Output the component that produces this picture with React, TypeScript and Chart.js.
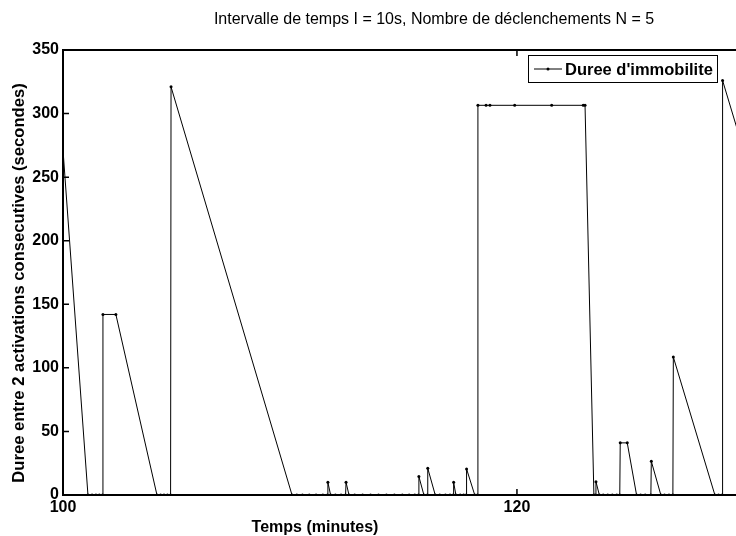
import React, { useEffect, useRef } from "react";
import { Chart, registerables } from "chart.js";

Chart.register(...registerables);

const SERIES_LABEL = "Duree d'immobilite";
const TITLE = "Intervalle de temps I = 10s, Nombre de déclenchements N = 5";
const X_TITLE = "Temps (minutes)";
const Y_TITLE = "Duree entre 2 activations consecutives (secondes)";
const X_TICKS = [100, 120];
const Y_TICKS = [0, 50, 100, 150, 200, 250, 300, 350];

const TIMES = [
  99.75, 101.1, 101.28, 101.45, 101.6, 101.74, 101.76, 102.33,
  104.14, 104.3, 104.45, 104.6, 104.74, 104.76,
  110.09, 110.3, 110.55, 110.85, 111.15, 111.45, 111.65, 111.67, 111.79,
  112.0, 112.25, 112.45, 112.47, 112.6, 112.85, 113.2, 113.55, 113.9, 114.25, 114.6, 114.95, 115.25, 115.5,
  115.66, 115.68, 115.9, 116.05, 116.07, 116.4, 116.6, 116.85, 117.05, 117.19, 117.21, 117.31,
  117.5, 117.65, 117.76, 117.78, 118.14, 118.26, 118.28,
  118.64, 118.81, 119.9, 121.53, 122.92, 123.0,
  123.39, 123.46, 123.48, 123.63, 123.8, 124.0, 124.2, 124.4, 124.53, 124.55, 124.86, 125.27,
  125.45, 125.65, 125.9, 125.92, 126.34, 126.5, 126.7, 126.87, 126.89, 128.72, 128.88, 129.04, 129.06, 134.55,
];

const DUREES = [
  333, 0, 0, 0, 0, 0, 142, 142,
  0, 0, 0, 0, 0, 321,
  0, 0, 0, 0, 0, 0, 0, 10, 0,
  0, 0, 0, 10, 0, 0, 0, 0, 0, 0, 0, 0, 0, 0,
  0, 14.5, 0, 0, 21, 0, 0, 0, 0, 0, 10, 0,
  0, 0, 0, 20.5, 0, 0, 306.5,
  306.5, 306.5, 306.5, 306.5, 306.5, 306.5,
  0, 0, 10.5, 0, 0, 0, 0, 0, 0, 41, 41, 0,
  0, 0, 0, 26.5, 0, 0, 0, 0, 108.5, 0, 0, 0, 326, 0,
];

const FONT = "'Liberation Sans', Arial, Helvetica, sans-serif";

const framePlugin = {
  id: "matlabFrame",
  afterDraw(chart: any) {
    const ctx = chart.ctx;
    const { left, right, top, bottom } = chart.chartArea;
    const xs = chart.scales.x;
    const ys = chart.scales.y;
    ctx.save();
    ctx.strokeStyle = "#000";
    ctx.fillStyle = "#000";
    // frame
    ctx.lineWidth = 2;
    ctx.beginPath();
    ctx.moveTo(left, top);
    ctx.lineTo(right, top);
    ctx.moveTo(left, top - 1);
    ctx.lineTo(left, bottom + 1);
    ctx.moveTo(left, bottom);
    ctx.lineTo(right, bottom);
    ctx.stroke();
    // inward ticks
    ctx.lineWidth = 1.5;
    ctx.beginPath();
    Y_TICKS.forEach((v) => {
      const y = ys.getPixelForValue(v);
      ctx.moveTo(left, y);
      ctx.lineTo(left + 6, y);
    });
    X_TICKS.forEach((v) => {
      const x = xs.getPixelForValue(v);
      ctx.moveTo(x, bottom);
      ctx.lineTo(x, bottom - 6);
      ctx.moveTo(x, top);
      ctx.lineTo(x, top + 6);
    });
    ctx.stroke();

    // titles
    ctx.textAlign = "center";
    ctx.textBaseline = "middle";
    ctx.font = `16px ${FONT}`;
    ctx.fillText(TITLE, chart.width / 2, 20);
    ctx.font = `bold 16px ${FONT}`;
    ctx.fillText(X_TITLE, 315, 528);
    ctx.save();
    ctx.translate(19, 283);
    ctx.rotate(-Math.PI / 2);
    ctx.font = `bold 16.6px ${FONT}`;
    ctx.fillText(Y_TITLE, 0, 0);
    ctx.restore();

    // legend
    const lx = left + 465;
    const ly = top + 5;
    const lw = 189;
    const lh = 27;
    ctx.fillStyle = "#fff";
    ctx.fillRect(lx, ly, lw, lh);
    ctx.strokeStyle = "#000";
    ctx.lineWidth = 1;
    ctx.strokeRect(lx + 0.5, ly + 0.5, lw, lh);
    ctx.beginPath();
    ctx.moveTo(lx + 6, ly + 14);
    ctx.lineTo(lx + 34, ly + 14);
    ctx.stroke();
    ctx.fillStyle = "#000";
    ctx.beginPath();
    ctx.arc(lx + 20, ly + 14, 1.5, 0, Math.PI * 2);
    ctx.fill();
    ctx.textAlign = "left";
    ctx.textBaseline = "alphabetic";
    ctx.font = `bold 16.5px ${FONT}`;
    ctx.fillText(SERIES_LABEL, lx + 37, ly + 20);
    ctx.restore();
  },
};

export default function App() {
  const canvasRef = useRef<HTMLCanvasElement | null>(null);

  useEffect(() => {
    if (!canvasRef.current) return;
    const chart = new Chart(canvasRef.current, {
      type: "line",
      data: {
        datasets: [
          {
            label: SERIES_LABEL,
            data: TIMES.map((t, i) => ({ x: t, y: DUREES[i] })),
            borderColor: "#000",
            backgroundColor: "#000",
            borderWidth: 1,
            pointRadius: 1.5,
            pointBorderWidth: 0,
            pointBackgroundColor: "#000",
            tension: 0,
            fill: false,
          },
        ],
      },
      options: {
        responsive: false,
        animation: false,
        devicePixelRatio: 1,
        layout: { padding: { top: 50, left: 0, right: 0, bottom: 0 } },
        plugins: {
          legend: { display: false },
          title: { display: false },
          tooltip: { enabled: false },
        },
        scales: {
          x: {
            type: "linear",
            min: 100,
            max: 135.29,
            afterBuildTicks: (s: any) => {
              s.ticks = X_TICKS.map((v) => ({ value: v }));
            },
            afterFit: (s: any) => {
              s.height = 41;
            },
            grid: { display: false, drawTicks: false },
            border: { display: false },
            ticks: {
              color: "#000",
              font: { family: FONT, size: 16, weight: "bold" },
              padding: 3,
              maxRotation: 0,
              autoSkip: false,
            },
          },
          y: {
            type: "linear",
            min: 0,
            max: 350,
            afterBuildTicks: (s: any) => {
              s.ticks = Y_TICKS.map((v) => ({ value: v }));
            },
            afterFit: (s: any) => {
              s.width = 63;
            },
            grid: { display: false, drawTicks: false },
            border: { display: false },
            ticks: {
              color: "#000",
              font: { family: FONT, size: 16, weight: "bold" },
              padding: 4,
              autoSkip: false,
            },
          },
        },
      },
      plugins: [framePlugin],
    });
    return () => chart.destroy();
  }, []);

  return (
    <div
      style={{
        position: "fixed",
        left: 0,
        top: 0,
        width: 736,
        height: 536,
        overflow: "hidden",
        background: "#fff",
      }}
    >
      <canvas ref={canvasRef} width={868} height={536} style={{ display: "block" }} />
    </div>
  );
}
